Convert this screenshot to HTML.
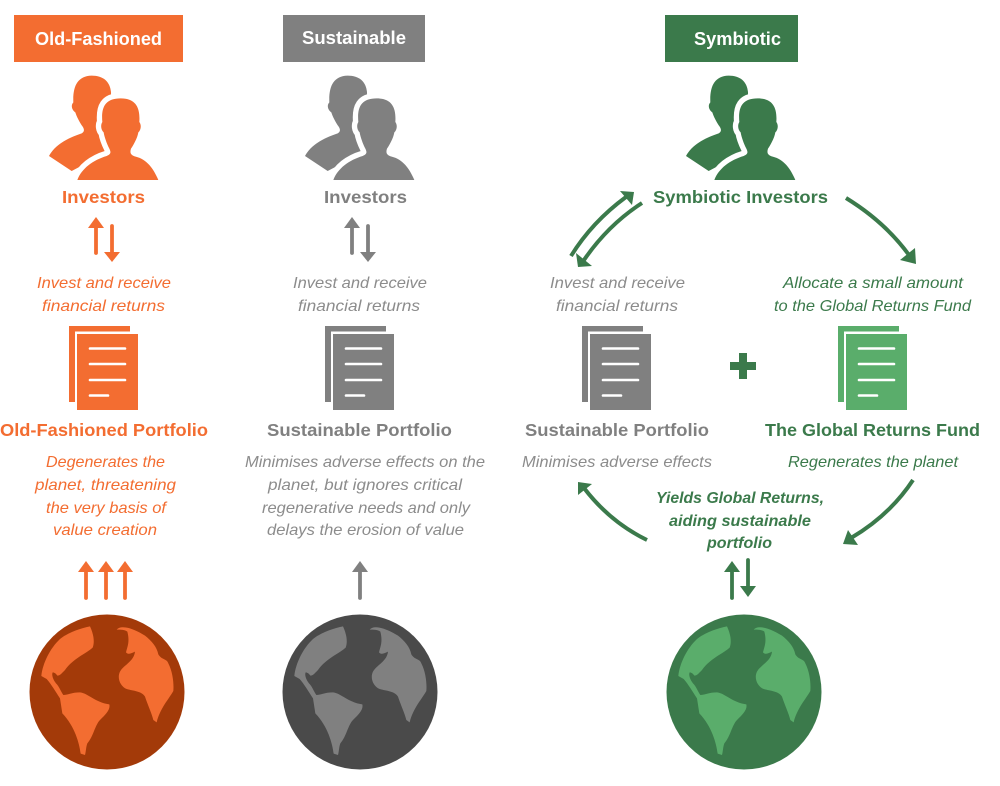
<!DOCTYPE html>
<html>
<head>
<meta charset="utf-8">
<style>
html,body{margin:0;padding:0;background:#fff;width:1000px;height:786px;overflow:hidden}
svg{display:block;filter:blur(.35px)}
text{font-family:"Liberation Sans",sans-serif;text-anchor:start}
.h{font-weight:bold;font-size:18px;fill:#fff}
.b{font-weight:bold;font-size:17.5px}
.i{font-style:italic;font-size:16px}
.bi{font-style:italic;font-weight:bold;font-size:15.5px}
.o{fill:#f36d31}.g{fill:#808080}.d{fill:#3b7a4b}
.lg{fill:#8c8c8c}
</style>
</head>
<body>
<svg width="1000" height="786" viewBox="0 0 1000 786" xmlns="http://www.w3.org/2000/svg">
<defs>
<g id="people" transform="translate(40,70) scale(.33333)">
<path d="M27,258 C45,225 80,205 125,190 C134,185 133,178 128,170 C118,155 110,140 106,127 C95,120 92,105 100,97 C98,50 112,18 155,17 C190,17 210,35 213,66 L215,240 L95,303 Z"/>
<path stroke="#fff" stroke-width="32" stroke-linejoin="round" paint-order="stroke" d="M112,330 C125,295 160,270 200,258 C212,253 214,248 208,236 C200,220 193,200 191,187 C183,180 181,165 187,156 C183,112 195,85 242,85 C287,85 301,112 298,156 C305,165 303,180 295,187 C292,205 280,225 273,236 C269,250 272,255 287,260 C320,268 340,295 355,330 Z"/>
</g>
<g id="doc">
<path d="M69,326 H130 V331.5 H75 V402 H69 Z"/>
<rect x="77" y="334" width="61" height="76"/>
<g stroke="#fff" stroke-width="2.6" stroke-linecap="round">
<path d="M90,348.5 H125 M90,364 H125 M90,380 H125 M90,395.5 H108"/>
</g>
</g>
<g id="land" transform="translate(30,615) scale(.33333)">
<path d="M180,34 C190,55 195,80 188,98 C170,115 130,130 105,165 C95,175 90,182 82,182 C78,175 72,172 68,172 C64,180 70,195 78,205 C88,215 92,228 100,240 C112,240 125,232 150,232 C175,235 195,262 238,268 C242,285 225,300 210,315 C195,330 190,365 172,385 C168,395 168,410 165,420 L152,416 C148,385 135,335 97,295 L90,250 C78,232 62,205 50,192 L34,183 C38,145 60,100 90,72 C115,52 150,40 180,34Z"/>
<path d="M260,44 C272,28 310,40 345,62 C365,78 380,95 385,118 C395,135 410,130 415,145 C428,170 432,205 430,228 C418,250 390,280 380,322 L370,315 C365,295 355,275 345,245 C335,228 310,228 290,222 C272,215 260,190 270,170 C280,150 312,140 315,110 C305,115 295,120 288,112 C292,95 300,80 292,50 C285,44 272,44 260,44Z"/>
</g>
<g id="updown">
<path d="M96,253 V226" stroke-width="3.8" stroke-linecap="round" fill="none"/>
<path d="M88,228 L96,217 L104,228Z" stroke="none"/>
<path d="M112,226 V253" stroke-width="3.8" stroke-linecap="round" fill="none"/>
<path d="M104,252 L112,262 L120,252Z" stroke="none"/>
</g>
<g id="up">
<path d="M0,37 V9" stroke-width="3.8" stroke-linecap="round" fill="none"/>
<path d="M-8,11 L0,0 L8,11Z" stroke="none"/>
</g>
</defs>

<!-- Headers -->
<rect x="14" y="15" width="169" height="47" fill="#f36d31"/>
<rect x="283" y="15" width="142" height="47" fill="#808080"/>
<rect x="665" y="15" width="133" height="47" fill="#3b7a4b"/>
<text class="h" x="35" y="45" textLength="127" lengthAdjust="spacingAndGlyphs">Old-Fashioned</text>
<text class="h" x="302" y="44" textLength="104" lengthAdjust="spacingAndGlyphs">Sustainable</text>
<text class="h" x="694" y="45" textLength="87" lengthAdjust="spacingAndGlyphs">Symbiotic</text>

<!-- People -->
<use href="#people" fill="#f36d31"/>
<use href="#people" x="256" fill="#808080"/>
<use href="#people" x="637" fill="#3b7a4b"/>

<text class="b o" x="62" y="203" textLength="83" lengthAdjust="spacingAndGlyphs">Investors</text>
<text class="b g" x="324" y="203" textLength="83" lengthAdjust="spacingAndGlyphs">Investors</text>
<text class="b d" x="653" y="203" textLength="175" lengthAdjust="spacingAndGlyphs">Symbiotic Investors</text>

<!-- Up/down arrows -->
<use href="#updown" fill="#f36d31" stroke="#f36d31"/>
<use href="#updown" x="256" fill="#808080" stroke="#808080"/>
<use href="#up" x="86" y="561" fill="#f36d31" stroke="#f36d31"/>
<use href="#up" x="106" y="561" fill="#f36d31" stroke="#f36d31"/>
<use href="#up" x="125" y="561" fill="#f36d31" stroke="#f36d31"/>
<use href="#up" x="360" y="561" fill="#808080" stroke="#808080"/>
<use href="#up" x="732" y="561" fill="#3b7a4b" stroke="#3b7a4b"/>
<path d="M748,560 V588" stroke="#3b7a4b" stroke-width="3.8" stroke-linecap="round" fill="none"/>
<path d="M740,586 L748,597 L756,586Z" fill="#3b7a4b"/>

<!-- Italic captions -->
<text class="i o" x="37" y="288" textLength="134" lengthAdjust="spacingAndGlyphs">Invest and receive</text>
<text class="i o" x="42" y="311" textLength="123" lengthAdjust="spacingAndGlyphs">financial returns</text>
<text class="i lg" x="293" y="288" textLength="134" lengthAdjust="spacingAndGlyphs">Invest and receive</text>
<text class="i lg" x="298" y="311" textLength="122" lengthAdjust="spacingAndGlyphs">financial returns</text>
<text class="i lg" x="550" y="288" textLength="135" lengthAdjust="spacingAndGlyphs">Invest and receive</text>
<text class="i lg" x="556" y="311" textLength="122" lengthAdjust="spacingAndGlyphs">financial returns</text>
<text class="i d" x="783" y="288" textLength="180" lengthAdjust="spacingAndGlyphs">Allocate a small amount</text>
<text class="i d" x="774" y="311" textLength="197" lengthAdjust="spacingAndGlyphs">to the Global Returns Fund</text>

<!-- Documents -->
<use href="#doc" fill="#f36d31"/>
<use href="#doc" x="256" fill="#808080"/>
<use href="#doc" x="513" fill="#808080"/>
<use href="#doc" x="769" fill="#5aad6b"/>
<path d="M739,353 H747 V362 H756 V370 H747 V379 H739 V370 H730 V362 H739 Z" fill="#3b7a4b"/>

<!-- Portfolio titles -->
<text class="b o" x="0" y="436" textLength="208" lengthAdjust="spacingAndGlyphs">Old-Fashioned Portfolio</text>
<text class="b g" x="267" y="436" textLength="185" lengthAdjust="spacingAndGlyphs">Sustainable Portfolio</text>
<text class="b g" x="525" y="436" textLength="184" lengthAdjust="spacingAndGlyphs">Sustainable Portfolio</text>
<text class="b d" x="765" y="436" textLength="215" lengthAdjust="spacingAndGlyphs">The Global Returns Fund</text>

<!-- Descriptions -->
<text class="i o" x="46" y="467" textLength="119" lengthAdjust="spacingAndGlyphs">Degenerates the</text>
<text class="i o" x="35" y="490" textLength="141" lengthAdjust="spacingAndGlyphs">planet, threatening</text>
<text class="i o" x="46" y="513" textLength="120" lengthAdjust="spacingAndGlyphs">the very basis of</text>
<text class="i o" x="53" y="535" textLength="104" lengthAdjust="spacingAndGlyphs">value creation</text>

<text class="i lg" x="245" y="467" textLength="240" lengthAdjust="spacingAndGlyphs">Minimises adverse effects on the</text>
<text class="i lg" x="268" y="490" textLength="194" lengthAdjust="spacingAndGlyphs">planet, but ignores critical</text>
<text class="i lg" x="262" y="513" textLength="208" lengthAdjust="spacingAndGlyphs">regenerative needs and only</text>
<text class="i lg" x="267" y="535" textLength="197" lengthAdjust="spacingAndGlyphs">delays the erosion of value</text>

<text class="i lg" x="522" y="467" textLength="190" lengthAdjust="spacingAndGlyphs">Minimises adverse effects</text>
<text class="i d" x="788" y="467" textLength="170" lengthAdjust="spacingAndGlyphs">Regenerates the planet</text>

<text class="bi d" x="656" y="503" textLength="168" lengthAdjust="spacingAndGlyphs">Yields Global Returns,</text>
<text class="bi d" x="669" y="526" textLength="142" lengthAdjust="spacingAndGlyphs">aiding sustainable</text>
<text class="bi d" x="707" y="548" textLength="65" lengthAdjust="spacingAndGlyphs">portfolio</text>

<!-- Curved arrows -->
<g stroke="#3b7a4b" stroke-width="4" fill="none" stroke-linecap="butt">
<path d="M571,256 Q592,222 626,197"/>
<path d="M642,203 Q608,225 584,260"/>
<path d="M846,198 Q885,222 909,255"/>
<path d="M647,540 Q610,522 584,488"/>
<path d="M913,480 Q890,515 851,538"/>
</g>
<g fill="#3b7a4b">
<path d="M620,191 L634,192 L632,205Z"/>
<path d="M576,253 L578,267 L592,266Z"/>
<path d="M915,248 L916,264 L900,260Z"/>
<path d="M578,495 L578,482 L592,484Z"/>
<path d="M858,545 L843,544 L848,530Z"/>
</g>

<!-- Globes -->
<circle cx="107" cy="692" r="77.5" fill="#a33a09"/>
<use href="#land" fill="#f36d31"/>
<circle cx="360" cy="692" r="77.5" fill="#4a4a4a"/>
<use href="#land" x="253" fill="#808080"/>
<circle cx="744" cy="692" r="77.5" fill="#3b7a4b"/>
<use href="#land" x="637" fill="#5aad6b"/>
</svg>
</body>
</html>
